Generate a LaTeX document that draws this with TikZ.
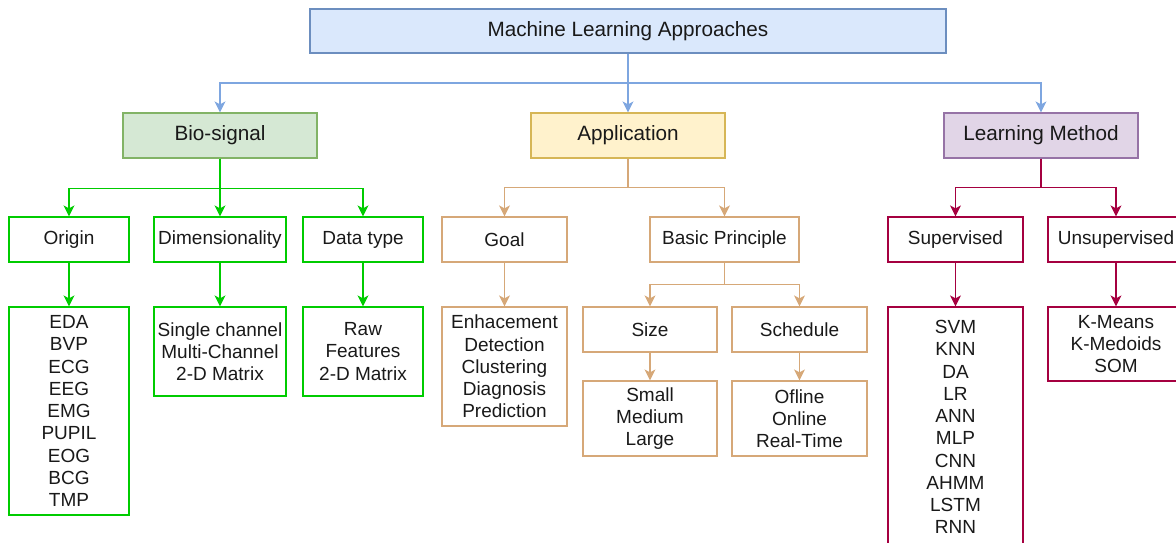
\documentclass[tikz,border=0pt]{standalone}
\usepackage{fontspec}
\setmainfont{Liberation Sans}
\usepackage{tikz}
\usetikzlibrary{arrows.meta,positioning}
\usepackage{xcolor}
\definecolor{topfill}{HTML}{DAE8FC}
\definecolor{topdraw}{HTML}{6C8EBF}
\definecolor{biofill}{HTML}{D5E8D4}
\definecolor{biodraw}{HTML}{82B366}
\definecolor{appfill}{HTML}{FFF2CC}
\definecolor{appdraw}{HTML}{D6B656}
\definecolor{learnfill}{HTML}{E1D5E7}
\definecolor{learndraw}{HTML}{9673A6}
\definecolor{blueline}{HTML}{7EA6E0}
\definecolor{greenline}{HTML}{00CC00}
\definecolor{tanline}{RGB}{214,168,120}
\definecolor{magline}{HTML}{A50040}

\tikzset{
  box/.style={draw,rectangle,inner sep=0pt,minimum height=45pt,line width=1.2pt,
    font=\fontsize{19}{22.25}\selectfont,align=center,text=black!90},
  headbox/.style={box,minimum width=194pt,font=\fontsize{20.7}{24}\selectfont},
  link/.style={line width=1.2pt,-{Stealth[length=11pt,width=11pt,inset=3pt]}}
}

\begin{document}
\begin{tikzpicture}[x=1pt,y=-1pt]
    \useasboundingbox (0,0) rectangle (1176,543);
    \clip (0,0) rectangle (1176,543);

    % ── Level 0 / 1 ──────────────────────────────────────────────────────────
    \node[headbox,fill=topfill,draw=topdraw,minimum width=636pt,minimum height=44pt] (mla) at (628,31) {Machine Learning Approaches};
    \node[headbox,fill=biofill,draw=biodraw]     (bio)   at (220,135.5)  {Bio-signal};
    \node[headbox,fill=appfill,draw=appdraw]     (app)   at (628,135.5)  {Application};
    \node[headbox,fill=learnfill,draw=learndraw] (learn) at (1041,135.5) {Learning Method};

    \coordinate (split) at (628,83);
    \draw[link,blueline] (mla.south) -- (app.north);
    \draw[link,blueline] (mla.south) -- (split) -| (bio.north);
    \draw[link,blueline] (split) -| (learn.north);

    % ── Bio-signal ───────────────────────────────────────────────────────────
    \begin{scope}[every node/.append style={draw=greenline}]
      \node[box,minimum width=120pt] (origin) at (69,239.5)  {Origin};
      \node[box,minimum width=132pt] (dim)    at (220,239.5) {Dimensionality};
      \node[box,minimum width=120pt] (dtype)  at (363,239.5) {Data type};
      \node[box,minimum width=120pt,minimum height=208pt] (originlist) at (69,411)
        {EDA\\BVP\\ECG\\EEG\\EMG\\PUPIL\\EOG\\BCG\\TMP};
      \node[box,minimum width=132pt,minimum height=89pt] (dimlist) at (220,351.5)
        {Single channel\\Multi-Channel\\2-D Matrix};
      \node[box,minimum width=120pt,minimum height=89pt] (dtypelist) at (363,351.5)
        {Raw\\Features\\2-D Matrix};
    \end{scope}
    \foreach \child in {origin,dim,dtype}
      \draw[link,greenline] (bio.south) -- ++(0,30) -| (\child.north);
    \foreach \a/\b in {origin/originlist,dim/dimlist,dtype/dtypelist}
      \draw[link,greenline] (\a.south) -- (\b.north);

    % ── Application ──────────────────────────────────────────────────────────
    \begin{scope}[every node/.append style={draw=tanline}]
      \node[box,minimum width=125pt] (goal)  at (504.5,239.5) {Goal};
      \node[box,minimum width=149pt] (basic) at (724.5,239.5) {Basic Principle};
      \node[box,minimum width=125pt,minimum height=119pt] (goallist) at (504.5,366.5)
        {Enhacement\\Detection\\Clustering\\Diagnosis\\Prediction};
      \node[box,minimum width=134pt] (size)  at (650,329.5)   {Size};
      \node[box,minimum width=135pt] (sched) at (799.5,329.5) {Schedule};
      \node[box,minimum width=134pt,minimum height=75pt] (sizelist) at (650,418.5)
        {Small\\Medium\\Large};
      \node[box,minimum width=135pt,minimum height=75pt] (schedlist) at (799.5,418.5)
        {Ofline\\Online\\Real-Time};
    \end{scope}
    \foreach \child in {goal,basic}
      \draw[link,tanline] (app.south) -- ++(0,29) -| (\child.north);
    \foreach \child in {size,sched}
      \draw[link,tanline] (basic.south) -- ++(0,22) -| (\child.north);
    \foreach \a/\b in {goal/goallist,size/sizelist,sched/schedlist}
      \draw[link,tanline] (\a.south) -- (\b.north);

    % ── Learning Method ──────────────────────────────────────────────────────
    \begin{scope}[every node/.append style={draw=magline}]
      \node[box,minimum width=135pt] (sup)   at (955.5,239.5) {Supervised};
      \node[box,minimum width=136pt] (unsup) at (1116,239.5)  {Unsupervised};
      \node[box,minimum width=135pt,minimum height=240pt] (suplist) at (955.5,427)
        {SVM\\KNN\\DA\\LR\\ANN\\MLP\\CNN\\AHMM\\LSTM\\RNN};
      \node[box,minimum width=136pt,minimum height=74pt] (unsuplist) at (1116,344)
        {K-Means\\K-Medoids\\SOM};
    \end{scope}
    \foreach \child in {sup,unsup}
      \draw[link,magline] (learn.south) -- ++(0,29) -| (\child.north);
    \foreach \a/\b in {sup/suplist,unsup/unsuplist}
      \draw[link,magline] (\a.south) -- (\b.north);
\end{tikzpicture}
\end{document}
